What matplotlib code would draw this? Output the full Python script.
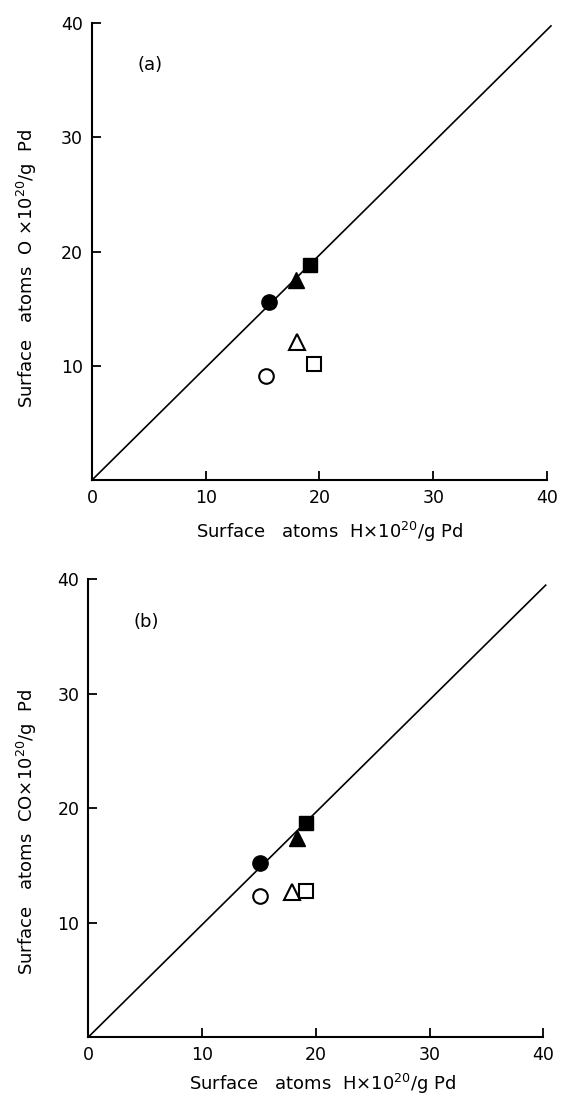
import matplotlib
matplotlib.use("Agg")
import matplotlib.pyplot as plt

plt.rcParams['font.family'] = ['DejaVu Sans']
plt.rcParams['mathtext.default'] = 'regular'

# Panel (a): O vs H
a_filled_circle = (15.6, 15.6)
a_filled_triangle = (17.9, 17.5)
a_filled_square = (19.15, 18.8)
a_open_circle = (15.3, 9.1)
a_open_triangle = (18.0, 12.1)
a_open_square = (19.55, 10.15)

# Panel (b): CO vs H
b_filled_circle = (15.1, 15.2)
b_filled_triangle = (18.3, 17.4)
b_filled_square = (19.1, 18.7)
b_open_circle = (15.1, 12.3)
b_open_triangle = (17.9, 12.7)
b_open_square = (19.1, 12.8)

# reference line
a_line_x = [0, 40.35]
a_line_y = [0, 39.75]
b_line_x = [0, 40.2]
b_line_y = [0, 39.5]

ticks = [0, 10, 20, 30, 40]
tick_labels = ['0', '10', '20', '30', '40']
ytick_vals = [10, 20, 30, 40]
ytick_labels = ['10', '20', '30', '40']

xlabel = 'Surface   atoms  H×10$^{20}$/g Pd'
ylabel_a = 'Surface   atoms  O ×10$^{20}$/g  Pd'
ylabel_b = 'Surface   atoms  CO×10$^{20}$/g  Pd'

fig = plt.figure(figsize=(5.62, 10.97), dpi=100)
ax1 = fig.add_axes([0.1637, 0.5624, 0.8096, 0.4166])
ax2 = fig.add_axes([0.1573, 0.0547, 0.8096, 0.4171])

W, H = 562.0, 1097.0

def style(ax, pts, lx, ly, ylabel, tag, xl_pos, yl_pos):
    fc, ft, fs, oc, ot, osq = pts
    ax.plot(lx, ly, color='black', lw=1.2, clip_on=False, zorder=1)
    ms = 11
    ax.plot(*fc, 'o', color='black', ms=ms, clip_on=False, zorder=3)
    ax.plot(*ft, '^', color='black', ms=ms + 1, clip_on=False, zorder=3)
    ax.plot(*fs, 's', color='black', ms=ms - 0.5, clip_on=False, zorder=3)
    ax.plot(*oc, 'o', mfc='white', mec='black', mew=1.5, ms=ms - 0.5, zorder=3)
    ax.plot(*ot, '^', mfc='white', mec='black', mew=1.5, ms=ms + 0.5, zorder=3)
    ax.plot(*osq, 's', mfc='white', mec='black', mew=1.5, ms=ms - 1, zorder=3)
    ax.set_xlim(0, 40)
    ax.set_ylim(0, 40)
    ax.spines['top'].set_visible(False)
    ax.spines['right'].set_visible(False)
    for s in ('left', 'bottom'):
        ax.spines[s].set_linewidth(1.5)
    ax.set_xticks(ticks)
    ax.set_xticklabels(tick_labels)
    ax.set_yticks(ytick_vals)
    ax.set_yticklabels(ytick_labels)
    ax.tick_params(direction='in', length=6.5, width=1.3, labelsize=12.5, pad=6.5)
    ax.set_xlabel(xlabel, fontsize=13)
    ax.set_ylabel(ylabel, fontsize=13)
    ax.xaxis.set_label_coords(xl_pos[0] / W, 1 - xl_pos[1] / H, transform=fig.transFigure)
    ax.yaxis.set_label_coords(yl_pos[0] / W, 1 - yl_pos[1] / H, transform=fig.transFigure)
    ax.text(5.1, 36.3, tag, fontsize=13, ha='center', va='center')

style(ax1, [a_filled_circle, a_filled_triangle, a_filled_square,
            a_open_circle, a_open_triangle, a_open_square],
      a_line_x, a_line_y, ylabel_a, '(a)', (330, 520), (39, 268))
style(ax2, [b_filled_circle, b_filled_triangle, b_filled_square,
            b_open_circle, b_open_triangle, b_open_square],
      b_line_x, b_line_y, ylabel_b, '(b)', (323, 1072), (39, 832))

fig.savefig('out.png', dpi=100)
